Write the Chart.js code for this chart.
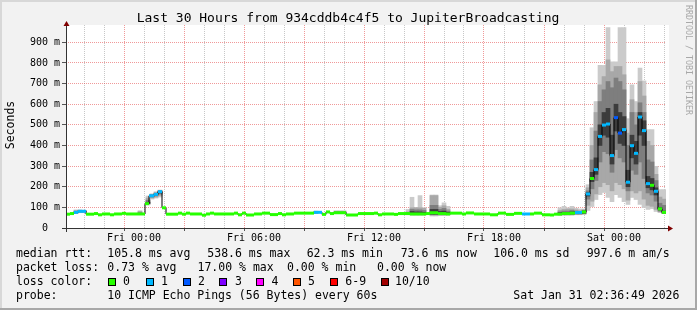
<!DOCTYPE html>
<html>
<head>
<meta charset="utf-8">
<script src="https://cdn.jsdelivr.net/npm/chart.js@4.4.1/dist/chart.umd.min.js"></script>
<style>
html, body { margin: 0; padding: 0; background: #f2f2f2; overflow: hidden; }
canvas { display: block; }
</style>
</head>
<body>
<canvas id="chart" width="697" height="310"></canvas>
<script>
var FONT = "'DejaVu Sans Mono', monospace";
var X_MIN = -3.4, X_MAX = 26.6, Y_MAX = 984, BIN = 0.2;

// median rtt steps (hours from Fri 00:00, ms, lost pings)
var medTimes = [-3.4, -3.2, -3.0, -2.8, -2.4, -2.0, -1.8, -1.6, -1.2, -1.0, -0.6, -0.4,
  0.55, 0.75, 1.0, 1.2, 1.4, 1.6, 2.2, 2.4, 2.6, 2.8, 3.4, 3.6, 3.8, 4.0, 5.0, 5.2, 5.4, 5.6,
  6.0, 6.4, 6.8, 7.2, 7.4, 7.6, 8.0, 9.0, 9.4, 9.6, 9.8, 10.0, 10.6, 11.2, 12.0, 12.2, 12.4,
  13.0, 13.2, 13.8, 14.6, 14.8, 15.2, 15.6, 15.8, 16.4, 16.6, 17.0, 17.8, 18.2, 18.6, 19.0,
  19.4, 19.8, 20.0, 20.4, 20.8, 21.0, 21.4, 21.8, 22.05, 22.4,
  22.6, 22.8, 23.0, 23.2, 23.4, 23.6, 23.8, 24.0, 24.2, 24.4, 24.6, 24.8, 25.0, 25.2, 25.4,
  25.6, 25.8, 26.0, 26.2, 26.4];
var medVals = [67, 70, 76, 81, 67, 70, 64, 68, 64, 68, 71, 68,
  118, 156, 163, 176, 98, 67, 72, 67, 72, 68, 62, 68, 72, 68, 72, 64, 72, 63,
  68, 72, 65, 70, 64, 68, 72, 76, 66, 78, 70, 74, 63, 70, 72, 64, 68,
  66, 70, 68, 70, 74, 70, 68, 72, 68, 73, 68, 64, 72, 66, 71,
  68, 68, 72, 64, 63, 67, 70, 72, 75, 78,
  165, 240, 283, 444, 499, 504, 351, 535, 460, 477, 222, 399, 362, 538, 472,
  215, 207, 178, 93, 76];
var medLoss = [0, 0, 1, 1, 0, 0, 0, 0, 0, 0, 0, 0,
  0, 1, 1, 1, 0, 0, 0, 0, 0, 0, 0, 0, 0, 0, 0, 0, 0, 0,
  0, 0, 0, 0, 0, 0, 0, 1, 0, 0, 0, 0, 0, 0, 0, 0, 0,
  0, 0, 0, 0, 0, 0, 0, 0, 0, 0, 0, 0, 0, 0, 0,
  1, 0, 0, 0, 0, 0, 0, 0, 1, 0,
  1, 0, 1, 1, 1, 1, 1, 2, 2, 1, 1, 1, 1, 1, 1,
  1, 0, 1, 0, 0];

// smoke: spread of the 10 pings per bin (bin start hour), outer band 1 .. inner band 4
var smokeTimes = [-3.0, -2.8, -2.6, 0.2, 0.6, 0.8, 1.0, 1.2, 9.0, 10.0, 10.2, 10.4,
  13.6, 13.8, 14.0, 14.2, 14.4, 14.8, 15.0, 15.2, 15.4, 15.6,
  21.2, 21.4, 21.6, 21.8, 22.0, 22.2, 22.4,
  22.6, 22.8, 23.0, 23.2, 23.4, 23.6, 23.8, 24.0, 24.2, 24.4, 24.6, 24.8, 25.0, 25.2, 25.4,
  25.6, 25.8, 26.0, 26.2, 26.4];
var smokeLo1 = [70, 74, 74, 66, 112, 140, 145, 150, 70, 70, 70, 70,
  64, 62, 62, 62, 62, 58, 58, 60, 60, 62,
  62, 62, 62, 62, 64, 64, 66,
  85, 104, 138, 162, 172, 148, 128, 162, 148, 128, 114, 148, 138, 114, 99,
  90, 94, 80, 75, 70];
var smokeLo2 = [72, 76, 76, 66, 115, 145, 150, 158, 72, 71, 71, 71,
  66, 64, 64, 64, 64, 62, 62, 63, 63, 64,
  64, 64, 64, 64, 66, 66, 68,
  110, 130, 165, 200, 220, 210, 180, 220, 210, 190, 135, 180, 170, 180, 140,
  110, 105, 90, 78, 70];
var smokeLo3 = [73, 78, 78, 67, 118, 150, 156, 165, 73, 72, 72, 72,
  67, 66, 66, 66, 66, 65, 65, 66, 66, 66,
  66, 66, 66, 66, 68, 68, 70,
  140, 190, 230, 320, 370, 360, 270, 380, 340, 320, 180, 280, 260, 320, 240,
  170, 160, 130, 82, 71];
var smokeLo4 = [74, 79, 79, 67, 120, 153, 160, 170, 74, 73, 73, 73,
  68, 67, 67, 67, 67, 67, 67, 68, 68, 68,
  67, 68, 68, 68, 70, 70, 72,
  155, 225, 260, 400, 450, 440, 310, 470, 410, 400, 200, 340, 310, 450, 400,
  195, 185, 160, 88, 73];
var smokeHi4 = [78, 83, 83, 70, 125, 158, 165, 178, 78, 76, 76, 76,
  72, 80, 78, 78, 76, 90, 90, 80, 82, 76,
  74, 76, 76, 78, 78, 78, 82,
  172, 270, 340, 500, 560, 580, 450, 600, 560, 540, 280, 450, 420, 560, 520,
  250, 240, 195, 100, 82];
var smokeHi3 = [80, 84, 84, 74, 135, 160, 168, 180, 79, 78, 78, 78,
  74, 90, 88, 88, 85, 110, 110, 90, 95, 82,
  78, 82, 82, 85, 82, 80, 84,
  180, 330, 470, 613, 670, 710, 680, 727, 710, 670, 400, 560, 500, 607, 560,
  330, 320, 230, 120, 110];
var smokeHi2 = [84, 86, 85, 80, 145, 163, 172, 182, 80, 80, 80, 80,
  78, 98, 98, 98, 95, 157, 157, 100, 108, 90,
  86, 90, 92, 92, 88, 84, 88,
  195, 400, 560, 694, 734, 815, 758, 783, 783, 743, 460, 622, 560, 710, 640,
  420, 400, 260, 150, 140];
var smokeHi1 = [88, 88, 86, 84, 155, 166, 176, 184, 82, 84, 84, 84,
  90, 149, 99, 157, 99, 160, 160, 108, 122, 105,
  98, 105, 98, 105, 96, 92, 92,
  210, 486, 613, 788, 788, 972, 805, 805, 972, 972, 530, 694, 613, 775, 713,
  477, 477, 299, 186, 186];

var lossColors = ['#26ff00', '#00b8ff', '#0059ff', '#7e00ff', '#ff00ff', '#ff5500', '#ff0000', '#a10000'];
var lossLabels = ['0', '1', '2', '3', '4', '5', '6-9', '10/10'];

var xTickHours = [0, 6, 12, 18, 24];
var xTickLabels = ['Fri 00:00', 'Fri 06:00', 'Fri 12:00', 'Fri 18:00', 'Sat 00:00'];

var titleText = 'Last 30 Hours from 934cddb4c4f5 to JupiterBroadcasting';

var MAJOR = 'rgba(228,70,70,0.55)';
var MINOR = 'rgba(130,130,130,0.45)';

function smokeBand(lo, hi, color, order) {
  return {
    type: 'bar',
    data: smokeTimes.map(function (t, i) { return { x: t + BIN / 2, y: [lo[i], hi[i]] }; }),
    backgroundColor: color,
    borderWidth: 0,
    barPercentage: 1,
    categoryPercentage: 1,
    grouped: false,
    order: order
  };
}

// thin black median line
var medLine = medTimes.map(function (t, i) { return { x: t, y: medVals[i] }; });
medLine.push({ x: X_MAX, y: medVals[medVals.length - 1] });

// loss-coloured horizontal median marks
var medMarks = [];
medTimes.forEach(function (t, i) {
  var end = i < medTimes.length - 1 ? medTimes[i + 1] : X_MAX;
  medMarks.push({ x: t, y: medVals[i] }, { x: end, y: medVals[i] }, { x: end, y: null });
});

var hourTicks = [];
for (var h = -3; h <= 26; h++) hourTicks.push({ value: h });
var valueTicks = [];
for (var v = 0; v <= 950; v += 50) valueTicks.push({ value: v });

var decor = {
  id: 'decor',
  beforeDraw: function (chart) {
    var ctx = chart.ctx, a = chart.chartArea, W = chart.width, H = chart.height;
    ctx.save();
    ctx.fillStyle = '#f2f2f2';
    ctx.fillRect(0, 0, W, H);
    ctx.fillStyle = '#d8d8d8';
    ctx.fillRect(0, 0, W, 2);
    ctx.fillRect(0, 0, 2, H);
    ctx.fillStyle = '#a8a8a8';
    ctx.fillRect(0, H - 2, W, 2);
    ctx.fillRect(W - 2, 0, 2, H);
    ctx.fillStyle = '#ffffff';
    ctx.fillRect(a.left + 1, a.top, a.right - a.left + 2, a.bottom - a.top);
    ctx.restore();
  },
  afterDraw: function (chart) {
    var ctx = chart.ctx, a = chart.chartArea;
    ctx.save();
    // axes
    ctx.strokeStyle = '#333';
    ctx.lineWidth = 1;
    ctx.beginPath();
    ctx.moveTo(a.left + 0.5, a.bottom + 4);
    ctx.lineTo(a.left + 0.5, a.top - 3);
    ctx.moveTo(a.left - 4, a.bottom + 0.5);
    ctx.lineTo(a.right + 3, a.bottom + 0.5);
    ctx.stroke();
    ctx.fillStyle = '#800000';
    ctx.beginPath();
    ctx.moveTo(a.left + 0.5, a.top - 4);
    ctx.lineTo(a.left - 2.5, a.top + 1);
    ctx.lineTo(a.left + 3.5, a.top + 1);
    ctx.closePath();
    ctx.fill();
    ctx.beginPath();
    ctx.moveTo(a.right + 7, a.bottom + 0.5);
    ctx.lineTo(a.right + 2, a.bottom - 2.5);
    ctx.lineTo(a.right + 2, a.bottom + 3.5);
    ctx.closePath();
    ctx.fill();

    // title
    ctx.fillStyle = '#000';
    ctx.textBaseline = 'middle';
    ctx.textAlign = 'center';
    ctx.font = '13px ' + FONT;
    ctx.fillText(titleText, 348, 19);

    // y title
    ctx.save();
    ctx.translate(11, 125);
    ctx.rotate(-Math.PI / 2);
    ctx.font = '11.5px ' + FONT;
    ctx.fillText('Seconds', 0, 0);
    ctx.restore();

    // rrdtool credit
    ctx.save();
    ctx.translate(688.5, 5);
    ctx.rotate(Math.PI / 2);
    ctx.textAlign = 'left';
    ctx.fillStyle = '#a8a8a8';
    ctx.font = '8.3px ' + FONT;
    ctx.fillText('RRDTOOL / TOBI OETIKER', 0, 0);
    ctx.restore();

    // legend block
    ctx.textAlign = 'left';
    ctx.font = '11.5px ' + FONT;
    var rows = [
      [['median rtt:', 16], ['105.8 ms avg', 107.3], ['538.6 ms max', 207.3], ['62.3 ms min', 306.7],
       ['73.6 ms now', 400.7], ['106.0 ms sd', 493.3], ['997.6 m am/s', 586.7]],
      [['packet loss:', 16], ['0.73 % avg', 107.3], ['17.00 % max', 197.5], ['0.00 % min', 287],
       ['0.00 % now', 377]],
      [['loss color:', 16]],
      [['probe:', 16], ['10 ICMP Echo Pings (56 Bytes) every 60s', 107.3], ['Sat Jan 31 02:36:49 2026', 513.3]]
    ];
    var rowY = [254.5, 268.5, 282.5, 296];
    rows.forEach(function (r, ri) {
      r.forEach(function (p) { ctx.fillText(p[0], p[1], rowY[ri]); });
    });
    var boxX = [108, 145.5, 182.5, 219, 256, 293, 330, 381];
    var labX = [123, 161, 198, 235, 271.5, 308, 345.3, 395];
    lossLabels.forEach(function (lab, i) {
      ctx.fillStyle = lossColors[i];
      ctx.fillRect(Math.round(boxX[i]), 278, 8, 8);
      ctx.strokeStyle = '#000';
      ctx.strokeRect(Math.round(boxX[i]) + 0.5, 278.5, 7, 7);
      ctx.fillStyle = '#000';
      ctx.fillText(lab, labX[i], rowY[2]);
    });
    ctx.restore();
  }
};

new Chart(document.getElementById('chart'), {
  type: 'line',
  data: {
    datasets: [
      smokeBand(smokeLo1, smokeHi1, '#cbcbcb', 6),
      smokeBand(smokeLo2, smokeHi2, '#a8a8a8', 5),
      smokeBand(smokeLo3, smokeHi3, '#7e7e7e', 4),
      smokeBand(smokeLo4, smokeHi4, '#3c3c3c', 3),
      {
        data: medLine,
        stepped: true,
        borderColor: '#000',
        borderWidth: 1,
        pointRadius: 0,
        order: 1
      },
      {
        data: medMarks,
        borderWidth: 3,
        borderCapStyle: 'butt',
        spanGaps: false,
        pointRadius: 0,
        borderColor: lossColors[0],
        segment: {
          borderColor: function (c) { return lossColors[medLoss[Math.floor(c.p0DataIndex / 3)]]; }
        },
        order: 0
      }
    ]
  },
  options: {
    responsive: false,
    animation: false,
    events: [],
    layout: { padding: { left: 0, right: 31, top: 25, bottom: 60 } },
    plugins: { legend: { display: false }, tooltip: { enabled: false }, title: { display: false } },
    scales: {
      x: {
        type: 'linear',
        min: X_MIN,
        max: X_MAX,
        offset: false,
        afterBuildTicks: function (s) { s.ticks = hourTicks.slice(); },
        afterFit: function (s) { s.height = 22; },
        grid: {
          color: function (c) { return c.tick && c.tick.value % 3 === 0 ? MAJOR : MINOR; },
          tickLength: 3,
          tickColor: function (c) { return c.tick && c.tick.value % 3 === 0 ? '#555' : 'rgba(0,0,0,0)'; }
        },
        border: { display: false, dash: [1, 1] },
        ticks: {
          autoSkip: false,
          maxRotation: 0,
          minRotation: 0,
          padding: 1,
          color: '#000',
          font: { family: FONT, size: 10 },
          callback: function (val) {
            var i = xTickHours.indexOf(val);
            return i >= 0 ? xTickLabels[i] : '';
          }
        }
      },
      y: {
        type: 'linear',
        min: 0,
        max: Y_MAX,
        afterBuildTicks: function (s) { s.ticks = valueTicks.slice(); },
        afterFit: function (s) { s.width = 66; },
        grid: {
          color: function (c) { return c.tick && c.tick.value % 100 === 0 ? MAJOR : MINOR; },
          tickLength: 4,
          tickColor: function (c) { return c.tick && c.tick.value % 100 === 0 ? '#555' : 'rgba(0,0,0,0)'; }
        },
        border: { display: false, dash: [1, 1] },
        ticks: {
          padding: 2,
          color: '#000',
          font: { family: FONT, size: 10 },
          callback: function (val) {
            if (val % 100 !== 0) return '';
            return val === 0 ? '0  ' : val + ' m';
          }
        }
      }
    }
  },
  plugins: [decor]
});
</script>
</body>
</html>
